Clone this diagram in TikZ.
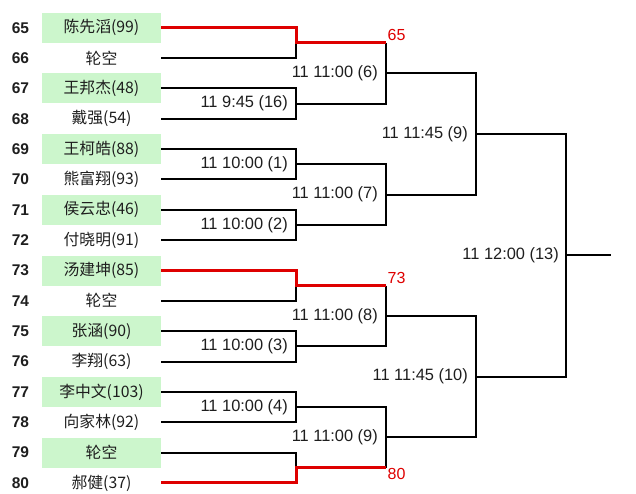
\documentclass[tikz,border=0pt]{standalone}
\usepackage{fontspec}
\setmainfont{Liberation Sans}
\newfontfamily\cjk{Noto Sans CJK SC}
\definecolor{boxgreen}{RGB}{204,246,204}
\definecolor{winred}{RGB}{222,0,0}
\definecolor{txt}{RGB}{30,30,30}
\begin{document}
\begin{tikzpicture}[x=1pt,y=-1pt,
  seed/.style={font=\fontsize{15.5}{16}\selectfont\bfseries, text=txt, anchor=center},
  player/.style={minimum width=119pt, minimum height=30pt, inner sep=0pt, anchor=center, text=txt, font=\fontsize{15.8}{17}\selectfont},
  hl/.style={player, fill=boxgreen},
  wire/.style={line width=2pt, black},
  redwire/.style={line width=3pt, winred},
  when/.style={anchor=east, inner sep=0pt, text=txt, font=\fontsize{16.4}{18}\selectfont},
  adv/.style={inner sep=0pt, text=winred, font=\fontsize{16}{17}\selectfont}]
\useasboundingbox (0,0) rectangle (636,494);
% seeds and players
\foreach \i/\s in {0/65,1/66,2/67,3/68,4/69,5/70,6/71,7/72,8/73,9/74,10/75,11/76,12/77,13/78,14/79,15/80}{
  \node[seed] (s\i) at (20.5, 27.7+30.35*\i) {\s};
}
\node[hl]     (p0)  at (101.5, 27.70)  {\cjk 陈先滔(99)};
\node[player] (p1)  at (101.5, 58.05)  {\cjk 轮空};
\node[hl]     (p2)  at (101.5, 88.40)  {\cjk 王邦杰(48)};
\node[player] (p3)  at (101.5, 118.75) {\cjk 戴强(54)};
\node[hl]     (p4)  at (101.5, 149.10) {\cjk 王柯皓(88)};
\node[player] (p5)  at (101.5, 179.45) {\cjk 熊富翔(93)};
\node[hl]     (p6)  at (101.5, 209.80) {\cjk 侯云忠(46)};
\node[player] (p7)  at (101.5, 240.15) {\cjk 付晓明(91)};
\node[hl]     (p8)  at (101.5, 270.50) {\cjk 汤建坤(85)};
\node[player] (p9)  at (101.5, 300.85) {\cjk 轮空};
\node[hl]     (p10) at (101.5, 331.20) {\cjk 张涵(90)};
\node[player] (p11) at (101.5, 361.55) {\cjk 李翔(63)};
\node[hl]     (p12) at (101.5, 391.90) {\cjk 李中文(103)};
\node[player] (p13) at (101.5, 422.25) {\cjk 向家林(92)};
\node[hl]     (p14) at (101.5, 452.60) {\cjk 轮空};
\node[player] (p15) at (101.5, 482.95) {\cjk 郝健(37)};
% match points (vertical line centres)
\coordinate (a1) at (296, 42.88);
\coordinate (a2) at (296, 103.58);
\coordinate (a3) at (296, 164.28);
\coordinate (a4) at (296, 224.98);
\coordinate (a5) at (296, 285.68);
\coordinate (a6) at (296, 346.38);
\coordinate (a7) at (296, 407.08);
\coordinate (a8) at (296, 467.78);
\coordinate (b1) at (386, 73.23);
\coordinate (b2) at (386, 194.63);
\coordinate (b3) at (386, 316.03);
\coordinate (b4) at (386, 437.43);
\coordinate (c1) at (476, 133.93);
\coordinate (c2) at (476, 376.73);
\coordinate (d1) at (566, 255.33);
\coordinate (out) at (611, 255.33);
% round 1
\draw[wire] (p1.east) -| (a1);
\draw[wire] (p2.east) -| (a2);
\draw[wire] (p3.east) -| (a2);
\draw[wire] (p4.east) -| (a3);
\draw[wire] (p5.east) -| (a3);
\draw[wire] (p6.east) -| (a4);
\draw[wire] (p7.east) -| (a4);
\draw[wire] (p9.east) -| (a5);
\draw[wire] (p10.east) -| (a6);
\draw[wire] (p11.east) -| (a6);
\draw[wire] (p12.east) -| (a7);
\draw[wire] (p13.east) -| (a7);
\draw[wire] (p14.east) -| (a8);
% round 2
\draw[wire] (a1 -| b1) -- (b1);
\draw[wire] (a2) -| (b1);
\draw[wire] (a3) -| (b2);
\draw[wire] (a4) -| (b2);
\draw[wire] (a5 -| b3) -- (b3);
\draw[wire] (a6) -| (b3);
\draw[wire] (a7) -| (b4);
\draw[wire] (a8 -| b4) -- (b4);
% round 3 and final
\draw[wire] (b1) -| (c1);
\draw[wire] (b2) -| (c1);
\draw[wire] (b3) -| (c2);
\draw[wire] (b4) -| (c2);
\draw[wire] (c1) -| (d1);
\draw[wire] (c2) -| (d1);
\draw[wire] (d1) -- (out);
% byes in red
\draw[redwire] (p0.east) -| (a1) -- (a1 -| b1);
\draw[redwire] (p8.east) -| (a5) -- (a5 -| b3);
\draw[redwire] (p15.east) -| (a8) -- (a8 -| b4);
% labels
\node[when] (t16) at ([xshift=-8pt]a2) {11 9:45 (16)};
\node[when] (t1)  at ([xshift=-8pt]a3) {11 10:00 (1)};
\node[when] (t2)  at ([xshift=-8pt]a4) {11 10:00 (2)};
\node[when] (t3)  at ([xshift=-8pt]a6) {11 10:00 (3)};
\node[when] (t4)  at ([xshift=-8pt]a7) {11 10:00 (4)};
\node[when] (t6)  at ([xshift=-8pt]b1) {11 11:00 (6)};
\node[when] (t7)  at ([xshift=-8pt]b2) {11 11:00 (7)};
\node[when] (t8)  at ([xshift=-8pt]b3) {11 11:00 (8)};
\node[when] (t9b) at ([xshift=-8pt]b4) {11 11:00 (9)};
\node[when] (t9)  at ([xshift=-8pt]c1) {11 11:45 (9)};
\node[when] (t10) at ([xshift=-8pt]c2) {11 11:45 (10)};
\node[when] (t13) at ([xshift=-7pt]d1) {11 12:00 (13)};
\node[adv, anchor=base west] (w65) at ([xshift=1.5pt,yshift=2pt]a1 -| b1) {65};
\node[adv, anchor=base west] (w73) at ([xshift=1.5pt,yshift=2pt]a5 -| b3) {73};
\node[adv, anchor=north west] (w80) at ([xshift=1.5pt,yshift=0pt]a8 -| b4) {80};
\end{tikzpicture}
\end{document}
